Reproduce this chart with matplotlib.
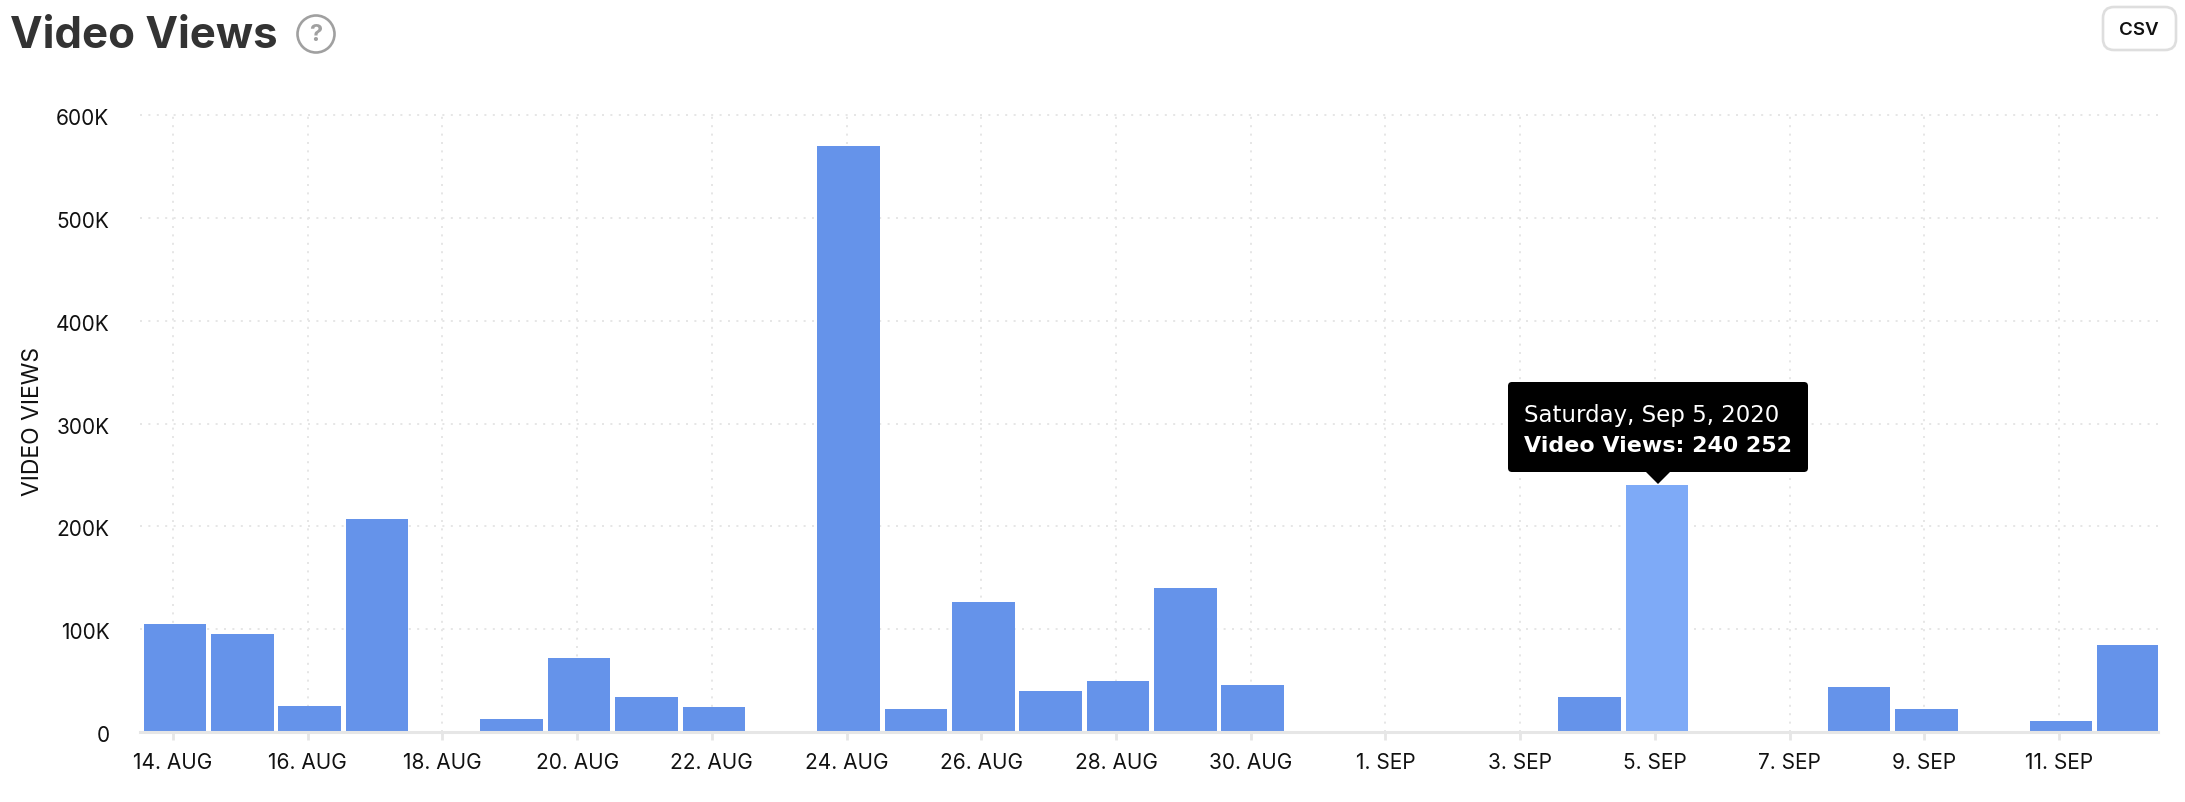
import matplotlib
matplotlib.use("Agg")
import matplotlib.pyplot as plt
from matplotlib.patches import Circle, FancyBboxPatch, Polygon
from matplotlib.transforms import ScaledTranslation

W = 2185
H = 802

# one value per day, 14 Aug to 12 Sep 2020
views = [105000, 95000, 25000, 207000, 0, 13000, 72000, 34000, 24000, 0,
         570000, 22000, 126000, 40000, 50000, 140000, 46000, 0, 0, 0,
         0, 34000, 240252, 0, 0, 44000, 22000, 0, 11000, 85000]
highlight = 22

tick_pos = [0, 2, 4, 6, 8, 10, 12, 14, 16, 18, 20, 22, 24, 26, 28]
tick_labels = ["14. AUG", "16. AUG", "18. AUG", "20. AUG", "22. AUG",
               "24. AUG", "26. AUG", "28. AUG", "30. AUG", "1. SEP",
               "3. SEP", "5. SEP", "7. SEP", "9. SEP", "11. SEP"]
y_ticks = [0, 100000, 200000, 300000, 400000, 500000, 600000]
y_labels = ["0", "100K", "200K", "300K", "400K", "500K", "600K"]

bar_color = "#6593EA"
hover_color = "#7EAAF7"
grid_color = "#e6e6e6"

plt.rcParams["font.family"] = ["Inter", "DejaVu Sans"]

fig = plt.figure(figsize=(W / 100, H / 100), dpi=100, facecolor="white")

# plot area in pixels: 140..2158 across, 115..732 down
ax = fig.add_axes([140 / W, 1 - 732 / H, (2158 - 140) / W, (732 - 115) / H])
ax.set_xlim(-0.52, 29.44)
ax.set_ylim(0, 600000)

colors = [hover_color if i == highlight else bar_color for i in range(len(views))]
ax.bar(range(len(views)), views, width=0.93, color=colors, edgecolor=colors,
       linewidth=0, zorder=2)

ax.set_yticks(y_ticks, y_labels)
ax.set_xticks([p - 0.03 for p in tick_pos], tick_labels)
ax.tick_params(axis="y", length=0, pad=22, labelsize=15, labelcolor="#111111")
ax.tick_params(axis="x", length=6, width=2, color=grid_color, pad=9,
               labelsize=15, labelcolor="#111111")
shift = ScaledTranslation(0, -2 / 100, fig.dpi_scale_trans)
for t in ax.get_yticklabels():
    t.set_verticalalignment("center_baseline")
    t.set_transform(t.get_transform() + shift)

ax.grid(True, color=grid_color, linewidth=1.44, linestyle=(0, (1, 3.2)), zorder=0)
ax.set_axisbelow(True)
for g in ax.get_ygridlines() + ax.get_xgridlines():
    g.set_clip_on(False)

for side in ["top", "right", "left"]:
    ax.spines[side].set_visible(False)
ax.spines["bottom"].set_color(grid_color)
ax.spines["bottom"].set_linewidth(2.2)
ax.spines["bottom"].set_zorder(3)

fig.text(33 / W, 1 - 422 / H, "VIDEO VIEWS", rotation=90, ha="center",
         va="center", fontsize=16.5, color="#111111")

# overlay in pixel coordinates for title, button and tooltip
ov = fig.add_axes([0, 0, 1, 1], facecolor="none")
ov.set_xlim(0, W)
ov.set_ylim(H, 0)
ov.axis("off")

ov.text(10, 48, "Video Views", fontsize=31.5, fontweight="bold", color="#333333",
        ha="left", va="baseline")
ov.add_patch(Circle((316, 34), 18.5, facecolor="white", edgecolor="#a0a0a0", linewidth=1.9))
ov.text(316, 35, "?", fontsize=17, fontweight="bold", color="#a0a0a0",
        ha="center", va="center")

ov.add_patch(FancyBboxPatch((2113, 17), 53, 23, boxstyle="round,pad=10,rounding_size=11",
                            facecolor="white", edgecolor="#dedede", linewidth=1.9))
ov.text(2139, 35, "CSV", fontsize=13.5, fontweight="semibold", color="#111111",
        ha="center", va="baseline")

ov.add_patch(FancyBboxPatch((1511, 385), 294, 84, boxstyle="round,pad=3,rounding_size=4",
                            facecolor="black", edgecolor="none"))
ov.add_patch(Polygon([(1645, 471), (1671, 471), (1658, 484)], closed=True,
                     facecolor="black", edgecolor="none"))
ov.text(1524, 422, "Saturday, Sep 5, 2020", fontsize=16.5, color="white",
        family="DejaVu Sans", ha="left", va="baseline")
ov.text(1524, 452, "Video Views: 240 252", fontsize=15.9, fontweight="bold", color="white",
        family="DejaVu Sans", ha="left", va="baseline")

fig.savefig("out.png", dpi=100)
